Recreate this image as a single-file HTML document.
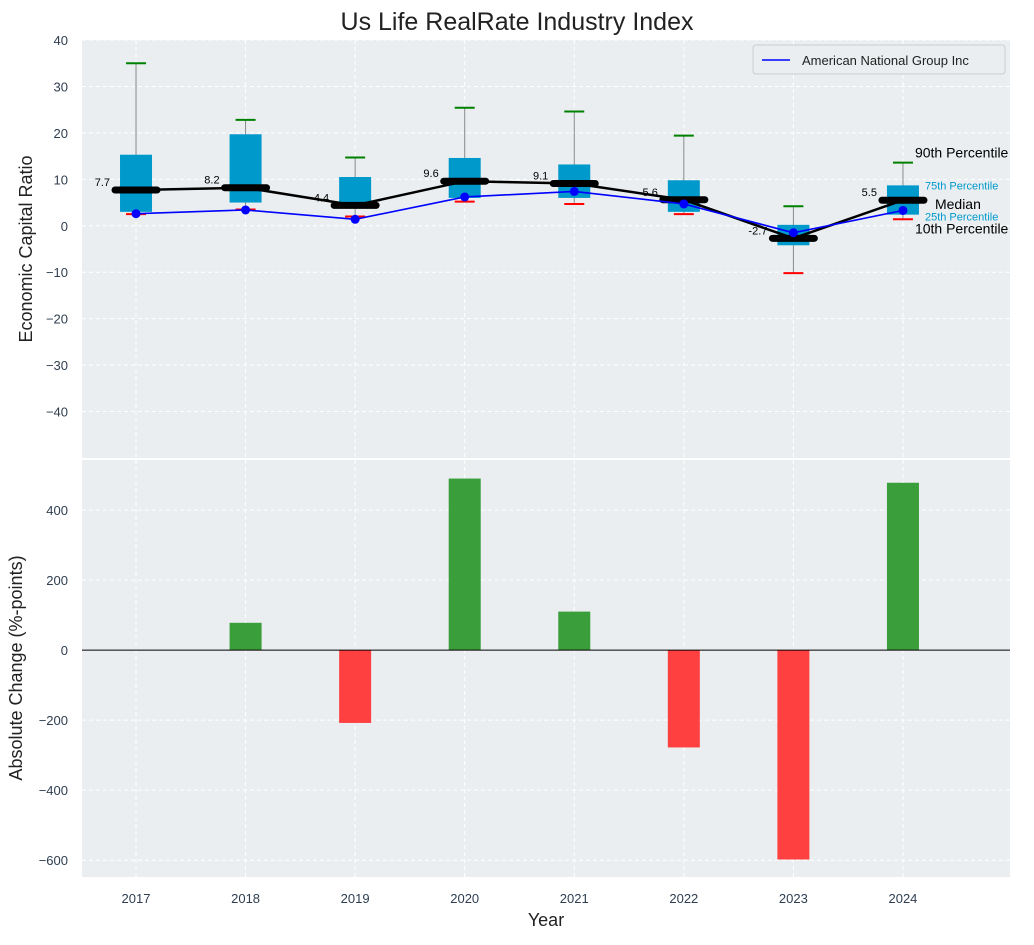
<!DOCTYPE html>
<html><head><meta charset="utf-8"><style>
body{margin:0;background:#fff;font-family:"Liberation Sans",sans-serif}
svg text{font-family:"Liberation Sans",sans-serif}
</style></head><body>
<svg id="c" width="1034" height="940" xmlns="http://www.w3.org/2000/svg"></svg>
<script>
const years=[2017,2018,2019,2020,2021,2022,2023,2024];
const q1=[3,5,4,6,6,3,-4.2,2.4];
const q3=[15.3,19.7,10.5,14.6,13.2,9.8,0.2,8.7];
const medians=[7.7,8.2,4.4,9.6,9.1,5.6,-2.7,5.5];
const p10=[2.5,3.5,2,5.2,4.7,2.5,-10.2,1.4];
const p90=[35,22.8,14.7,25.4,24.6,19.4,4.2,13.6];
const company=[2.6,3.4,1.4,6.2,7.4,4.7,-1.5,3.3];
const changes=[0,78,-208,490,110,-278,-598,478];
const topTicks=[40,30,20,10,0,-10,-20,-30,-40];
const botTicks=[400,200,0,-200,-400,-600];

const svg=document.getElementById('c');const NS='http://www.w3.org/2000/svg';
function el(t,a,p){const e=document.createElementNS(NS,t);for(const k in a)e.setAttribute(k,a[k]);(p||svg).appendChild(e);return e;}
function tx(x,y,s,a,p){const e=el('text',Object.assign({x:x,y:y},a),p);e.textContent=s;return e;}
const L=82,R=1010,XMIN=2016.507,XMAX=2024.977;
const X=v=>L+(v-XMIN)/(XMAX-XMIN)*(R-L);
const T0=40,T1=458,Y1=v=>T0+(40-v)/90*(T1-T0);
const B0=460,B1=877,Y2=v=>B0+(543-v)/(543+648)*(B1-B0);
const TC='#2e3e50';
const gTop=el('g',{});
el('rect',{x:L,y:T0,width:R-L,height:T1-T0,fill:'#eaeef0'},gTop);
const gBot=el('g',{});
el('rect',{x:L,y:B0,width:R-L,height:B1-B0,fill:'#eaeef0'},gBot);
topTicks.forEach(t=>{el('line',{x1:L,x2:R,y1:Y1(t),y2:Y1(t),stroke:'#fff','stroke-dasharray':'4,3','stroke-width':1},gTop);
 const e=tx(L-14,Y1(t)+5,String(t).replace('-','−'),{'text-anchor':'end','font-size':13,fill:TC});});
botTicks.forEach(t=>{el('line',{x1:L,x2:R,y1:Y2(t),y2:Y2(t),stroke:'#fff','stroke-dasharray':'4,3'},gBot);
 const e=tx(L-14,Y2(t)+5,String(t).replace('-','−'),{'text-anchor':'end','font-size':13,fill:TC});});
years.forEach(y=>{el('line',{x1:X(y),x2:X(y),y1:T0,y2:T1,stroke:'#fff','stroke-dasharray':'4,3'},gTop);
 el('line',{x1:X(y),x2:X(y),y1:B0,y2:B1,stroke:'#fff','stroke-dasharray':'4,3'},gBot);
 const e=tx(X(y),903,String(y),{'text-anchor':'middle','font-size':13,fill:TC});});
years.forEach((y,i)=>{const x=X(y),g=el('g',{},gTop);
 
 el('line',{x1:x,x2:x,y1:Y1(p90[i]),y2:Y1(p10[i]),stroke:'#888','stroke-width':1},g);
 el('rect',{x:x-16,y:Y1(q3[i]),width:32,height:Y1(q1[i])-Y1(q3[i]),fill:'#0099cc'},g);
 el('line',{x1:x-10,x2:x+10,y1:Y1(p90[i]),y2:Y1(p90[i]),stroke:'green','stroke-width':2},g);
 el('line',{x1:x-10,x2:x+10,y1:Y1(p10[i]),y2:Y1(p10[i]),stroke:'red','stroke-width':2},g);
});
el('polyline',{points:years.map((y,i)=>X(y)+','+Y1(medians[i])).join(' '),fill:'none',stroke:'#000','stroke-width':2.5},gTop);
years.forEach((y,i)=>{const m=el('line',{x1:X(y)-21,x2:X(y)+21,y1:Y1(medians[i]),y2:Y1(medians[i]),stroke:'#000','stroke-width':7,'stroke-linecap':'round'},gTop);
 
 const t=tx(X(y)-26,Y1(medians[i])-4,String(medians[i]),{'text-anchor':'end','font-size':11,fill:'#000'},gTop);});
el('polyline',{points:years.map((y,i)=>X(y)+','+Y1(company[i])).join(' '),fill:'none',stroke:'blue','stroke-width':1.6},gTop);
years.forEach((y,i)=>{const c=el('circle',{cx:X(y),cy:Y1(company[i]),r:4.5,fill:'blue'},gTop);});
const lx=X(2024);
[['90th Percentile',p90[7],15,'#000',14],['75th Percentile',q3[7],11,'#0099cc',11],['Median',medians[7],13,'#000',14],['25th Percentile',q1[7],11,'#0099cc',11],['10th Percentile',p10[7],14,'#000',14]].forEach(a=>{
 const dx=a[0]==='Median'?32:(a[4]==14?12:22);
 const dy=a[0].startsWith('90')?-9:a[0].startsWith('10')?10:a[0].startsWith('75')?0:a[0].startsWith('25')?2:5;
 const t=tx(lx+dx,Y1(a[1])+dy+4,a[0],{'font-size':a[4],fill:a[3]},gTop);});
const lg=el('g',{},gTop);
el('rect',{x:753,y:45,width:252,height:29,fill:'#eaeef0',stroke:'#ccc',rx:3},lg);
el('line',{x1:762,x2:790,y1:60,y2:60,stroke:'blue','stroke-width':1.6},lg);
tx(802,65,'American National Group Inc',{'font-size':13,fill:'#222'},lg);
years.forEach((y,i)=>{const v=changes[i];if(!v)return;const b=el('rect',{x:X(y)-16,y:Math.min(Y2(v),Y2(0)),width:32,height:Math.abs(Y2(v)-Y2(0)),fill:v>0?'#3a9e3a':'#ff4040'},gBot);
 });
el('line',{x1:L,x2:R,y1:Y2(0),y2:Y2(0),stroke:'#000','stroke-width':1},gBot);
let t=tx(517,30,'Us Life RealRate Industry Index',{'text-anchor':'middle','font-size':25,fill:'#222'});
t=tx(32,249,'Economic Capital Ratio',{'text-anchor':'middle','font-size':18,fill:'#222',transform:'rotate(-90 32 249)'});
t=tx(22,668,'Absolute Change (%-points)',{'text-anchor':'middle','font-size':18,fill:'#222',transform:'rotate(-90 22 668)'});
t=tx(546,926,'Year',{'text-anchor':'middle','font-size':18,fill:'#222'});
</script>
</body></html>
